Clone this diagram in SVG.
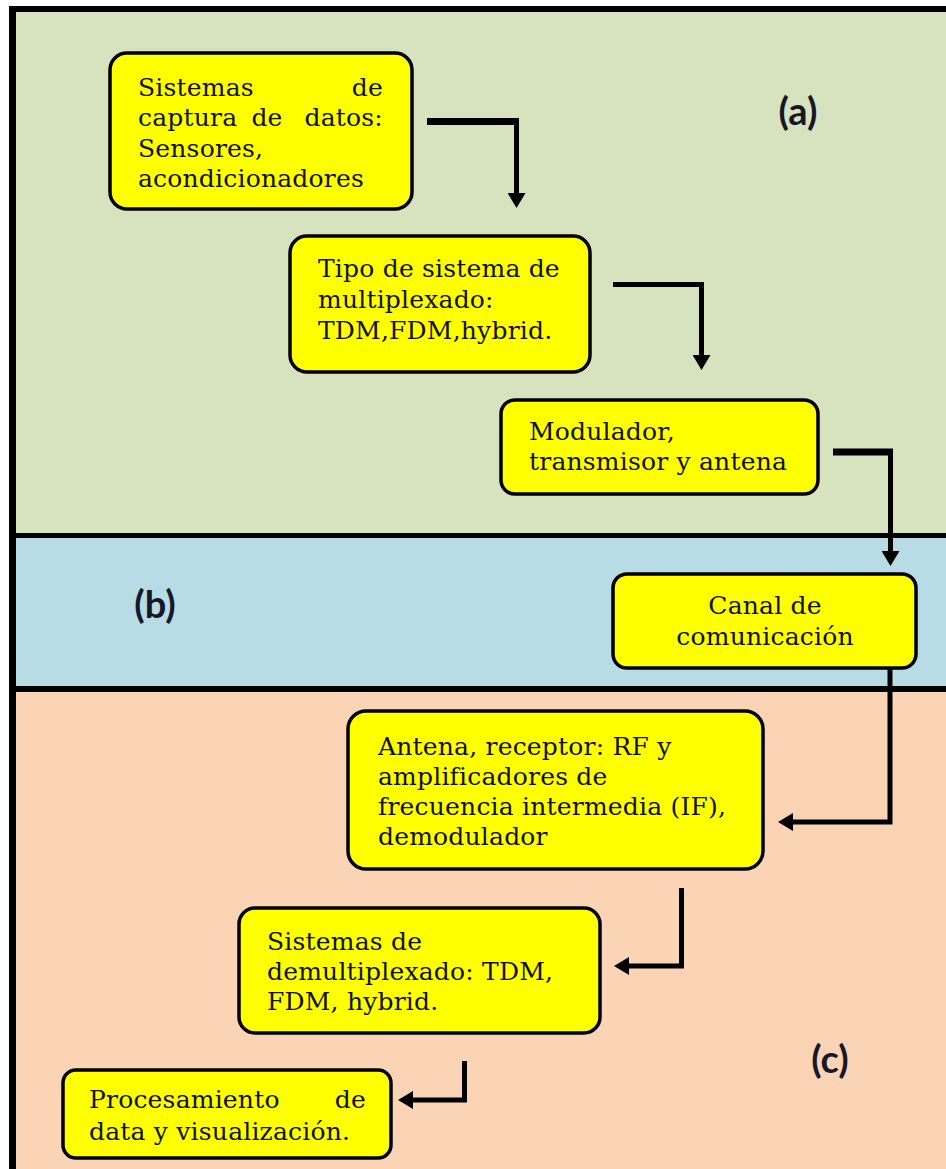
<svg xmlns="http://www.w3.org/2000/svg" width="946" height="1169" viewBox="0 0 946 1169">
  <style>
    .box { fill: #FFFF00; stroke: #000; stroke-width: 3.5; }
    .txt { font-family: "DejaVu Serif", "Liberation Serif", serif; font-size: 25px; letter-spacing: 0.2px; fill: #111; }
    .lbl { font-family: Lato, "Open Sans", "Liberation Sans", sans-serif; font-size: 38px; font-weight: 700; fill: #141828; }
    .wire { fill: none; stroke: #000; stroke-width: 5; stroke-linejoin: miter; stroke-linecap: butt; }
  </style>
  <defs>
    <!-- arrowhead anchored at its base so the line stops where the head begins -->
    <marker id="arrow" markerUnits="userSpaceOnUse" markerWidth="18" markerHeight="18" viewBox="0 0 18 18" refX="1" refY="9" orient="auto">
      <path d="M0,0 L15,9 L0,18 Z" fill="#000"/>
    </marker>
  </defs>

  <!-- panels -->
  <g id="panels">
    <rect x="16" y="12" width="930" height="522" fill="#D7E2BE"/>
    <rect x="16" y="537" width="930" height="151" fill="#B7DCE6"/>
    <rect x="16" y="691" width="930" height="478" fill="#FAD4B5"/>
    <line x1="9" y1="9" x2="946" y2="9" stroke="#000" stroke-width="6"/>
    <line x1="12.5" y1="6" x2="12.5" y2="1169" stroke="#000" stroke-width="7"/>
    <line x1="16" y1="535.5" x2="946" y2="535.5" stroke="#000" stroke-width="5"/>
    <line x1="16" y1="689" x2="946" y2="689" stroke="#000" stroke-width="6"/>
  </g>

  <!-- section labels -->
  <g id="labels">
    <text class="lbl" x="798" y="125" text-anchor="middle">(a)</text>
    <text class="lbl" x="155" y="618" text-anchor="middle">(b)</text>
    <text class="lbl" x="830" y="1073" text-anchor="middle">(c)</text>
  </g>

  <!-- connectors -->
  <g id="connectors">
    <line x1="427" y1="121.5" x2="519" y2="121.5" stroke="#000" stroke-width="7"/>
    <path class="wire" d="M516.5,118 V194" marker-end="url(#arrow)"/>
    <path class="wire" d="M613,284.5 H701.5 V356" stroke-width="4" marker-end="url(#arrow)"/>
    <line x1="833" y1="452" x2="893" y2="452" stroke="#000" stroke-width="7"/>
    <path class="wire" d="M890.5,449 V552" marker-end="url(#arrow)"/>
    <path class="wire" d="M890,668 V822 H792" marker-end="url(#arrow)"/>
    <path class="wire" d="M681.5,888 V966 H628" marker-end="url(#arrow)"/>
    <path class="wire" d="M464.5,1061 V1100 H412" marker-end="url(#arrow)"/>
  </g>

  <!-- nodes -->
  <g id="node-captura">
    <rect class="box" x="110" y="53" width="302" height="156" rx="17"/>
    <text class="txt"><tspan x="138" y="96">Sistemas</tspan><tspan x="383" y="96" text-anchor="end">de</tspan></text>
    <text class="txt"><tspan x="138" y="126">captura</tspan><tspan x="267" y="126" text-anchor="middle">de</tspan><tspan x="383" y="126" text-anchor="end">datos:</tspan></text>
    <text class="txt" x="138" y="157">Sensores,</text>
    <text class="txt" x="138" y="187">acondicionadores</text>
  </g>

  <g id="node-multiplexado">
    <rect class="box" x="290" y="236" width="300" height="136" rx="17"/>
    <text class="txt" x="318" y="277">Tipo de sistema de</text>
    <text class="txt" x="318" y="308">multiplexado:</text>
    <text class="txt" x="318" y="339">TDM,FDM,hybrid.</text>
  </g>

  <g id="node-modulador">
    <rect class="box" x="501" y="400" width="317" height="94" rx="14"/>
    <text class="txt" x="529" y="440">Modulador,</text>
    <text class="txt" x="529" y="470">transmisor y antena</text>
  </g>

  <g id="node-canal">
    <rect class="box" x="613" y="574" width="303" height="94" rx="14"/>
    <text class="txt" x="765" y="614" text-anchor="middle">Canal de</text>
    <text class="txt" x="765" y="645" text-anchor="middle">comunicación</text>
  </g>

  <g id="node-receptor">
    <rect class="box" x="348" y="711" width="415" height="158" rx="18"/>
    <text class="txt" x="378" y="755">Antena, receptor: RF y</text>
    <text class="txt" x="378" y="785">amplificadores de</text>
    <text class="txt" x="378" y="815">frecuencia intermedia (IF),</text>
    <text class="txt" x="378" y="845">demodulador</text>
  </g>

  <g id="node-demultiplexado">
    <rect class="box" x="239" y="908" width="361" height="125" rx="16"/>
    <text class="txt" x="267" y="950">Sistemas de</text>
    <text class="txt" x="267" y="980">demultiplexado: TDM,</text>
    <text class="txt" x="267" y="1010">FDM, hybrid.</text>
  </g>

  <g id="node-procesamiento">
    <rect class="box" x="63" y="1070" width="328" height="88" rx="13"/>
    <text class="txt"><tspan x="89" y="1108">Procesamiento</tspan><tspan x="366" y="1108" text-anchor="end">de</tspan></text>
    <text class="txt" x="89" y="1140">data y visualización.</text>
  </g>
</svg>
